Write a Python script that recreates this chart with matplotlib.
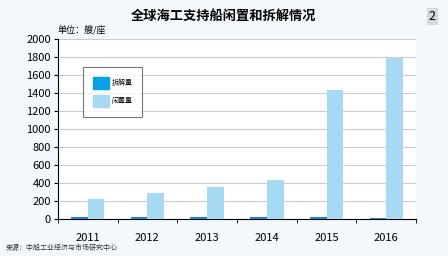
import numpy as np
import matplotlib
matplotlib.use('Agg')
from matplotlib import pyplot as plt
from matplotlib.patches import Patch

plt.rcParams['font.family'] = ['Noto Sans CJK SC', 'DejaVu Sans']

years = ['2011', '2012', '2013', '2014', '2015', '2016']
scrapped = [18, 22, 22, 22, 18, 12]      # 拆解量
idle = [225, 290, 350, 430, 1430, 1790]  # 闲置量

dark = '#1687c9'
dark_leg = '#0aa0e6'
light = '#a5d9f4'

fig = plt.figure(figsize=(4.48, 2.56), dpi=100)
fig.patch.set_facecolor('#f3f8fd')
ax = fig.add_axes([0.129, 0.145, 0.800, 0.703])
ax.set_facecolor('white')

x = np.arange(len(years))
w = 0.28
ax.bar(x - w / 2, scrapped, w, color=dark, zorder=3)
ax.bar(x + w / 2, idle, w, color=light, zorder=3)

ax.set_xlim(-0.5, len(years) - 0.5)
ax.set_ylim(0, 2000)
ax.set_yticks(np.arange(0, 2001, 200))
ax.tick_params(axis='y', labelsize=8, length=3, pad=2)
ax.set_xticks(x)
ax.set_xticklabels(years, fontsize=8)
ax.tick_params(axis='x', length=0, pad=10)
ax.set_xticks(np.arange(-0.5, len(years), 1), minor=True)
ax.tick_params(axis='x', which='minor', length=3)
ax.yaxis.grid(True, color='#cccccc', linewidth=0.8, zorder=0)
for s in ['top', 'right']:
    ax.spines[s].set_visible(False)
ax.spines['left'].set_linewidth(0.8)
ax.spines['bottom'].set_linewidth(0.8)

handles = [Patch(color=dark_leg, label='拆解量'), Patch(color=light, label='闲置量')]
leg = ax.legend(handles=handles, loc='upper left', bbox_to_anchor=(0.07, 0.845),
                fontsize=5, fancybox=False, edgecolor='#555555', borderaxespad=0,
                handlelength=2.3, handleheight=2.3, borderpad=1.4,
                labelspacing=0.9, handletextpad=0.45)
leg.get_frame().set_linewidth(0.8)

fig.text(0.5, 0.94, '全球海工支持船闲置和拆解情况', ha='center', va='center',
         fontsize=9.5, fontweight='bold')
fig.text(0.128, 0.882, '单位：艘/座', ha='left', va='center', fontsize=6.5)
fig.text(0.965, 0.935, '2', ha='center', va='center', fontsize=9,
         bbox=dict(facecolor='#d8d8d8', edgecolor='none', pad=1.5))
fig.text(0.012, 0.03, '来源：中船工业经济与市场研究中心', ha='left', va='center',
         fontsize=5, color='#333333')

fig.savefig('out.png', dpi=100, facecolor=fig.get_facecolor())
